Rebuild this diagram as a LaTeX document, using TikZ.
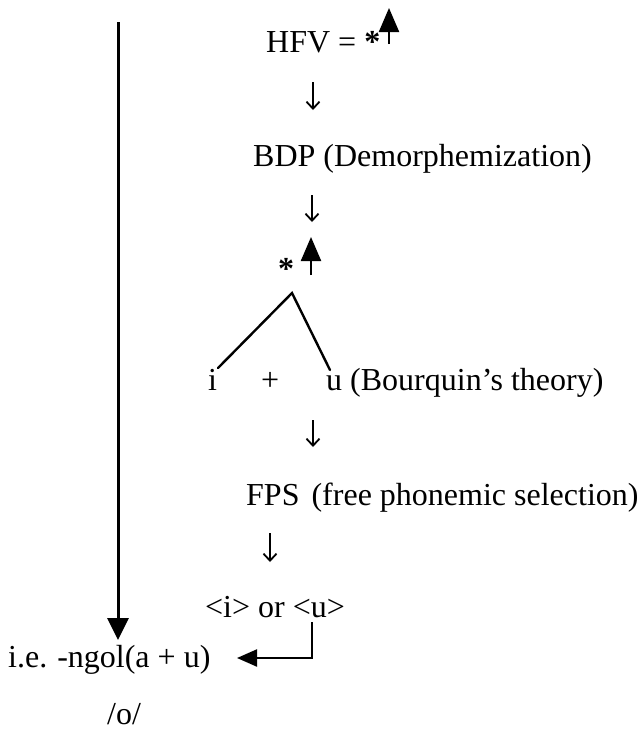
\documentclass[tikz,border=0pt]{standalone}
\usepackage{fontspec}
\setmainfont{Liberation Serif}
\usetikzlibrary{arrows.meta}
\begin{document}
\begin{tikzpicture}[x=1pt,y=-1pt,
  txt/.style={inner sep=0pt,anchor=base west,font=\fontsize{32}{36}\selectfont},
  thinarrow/.style={line width=1.8pt,-{Straight Barb[length=7pt,width=13pt,line width=1.8pt]}},
  bigarrow/.style={line width=2.2pt,-{Triangle[length=24pt,width=20pt]}},
  longarrow/.style={line width=3pt,-{Triangle[length=22pt,width=21pt]}},
  bentarrow/.style={line width=2.2pt,-{Triangle[length=20pt,width=17pt]}},
  treeline/.style={line width=2.4pt,line cap=round}]
\useasboundingbox (0,0) rectangle (642,732);
% long left arrow
\coordinate (topL) at (118,22);
\coordinate (tipL) at (118,640);
\draw[longarrow] (topL) -- (tipL);
% HFV line
\node[txt] (hfv) at (266,52) {HFV = \textbf{*}};
\coordinate (ua1b) at (389,44);
\coordinate (ua1t) at (389,8);
\draw[bigarrow] (ua1b) -- (ua1t);
\coordinate (d1a) at (313,82);
\coordinate (d1b) at (313,110);
\draw[thinarrow] (d1a) -- (d1b);
% BDP
\node[txt] (bdp) at (253,166) {BDP (Demorphemization)};
\coordinate (d2a) at (312,195);
\coordinate (d2b) at (312,222);
\draw[thinarrow] (d2a) -- (d2b);
% star and up arrow
\node[txt] (star) at (278,279) {\textbf{*}};
\coordinate (ua2b) at (311,275);
\coordinate (ua2t) at (311,237);
\draw[bigarrow] (ua2b) -- (ua2t);
% tree
\coordinate (apex) at (292,293);
\node[txt] (i) at (208,390) {i};
\node[txt] (plus) at (261,390) {+};
\node[txt] (u) at (326,390) {u (Bourquin’s theory)};
\coordinate (lt) at (218,368);
\coordinate (rt) at (330,370);
\draw[treeline] (lt) -- (apex) -- (rt);
\coordinate (d3a) at (313,420);
\coordinate (d3b) at (313,447);
\draw[thinarrow] (d3a) -- (d3b);
% FPS
\node[txt] (fps) at (246,505) {FPS\hspace{12pt}(free phonemic selection)};
\coordinate (d4a) at (270,533);
\coordinate (d4b) at (270,562);
\draw[thinarrow] (d4a) -- (d4b);
% choice
\node[txt] (choice) at (205,617) {<i> or <u>};
\node[txt] (ie) at (8,667) {i.e.\hspace{10pt}-ngol(a + u)};
\coordinate (bstart) at (312,622);
\coordinate (bcorner) at (312,658);
\coordinate (bend) at (237,658);
\draw[bentarrow] (bstart) -- (bcorner) -- (bend);
\node[txt] (o) at (107,724) {/o/};
\end{tikzpicture}
\end{document}
